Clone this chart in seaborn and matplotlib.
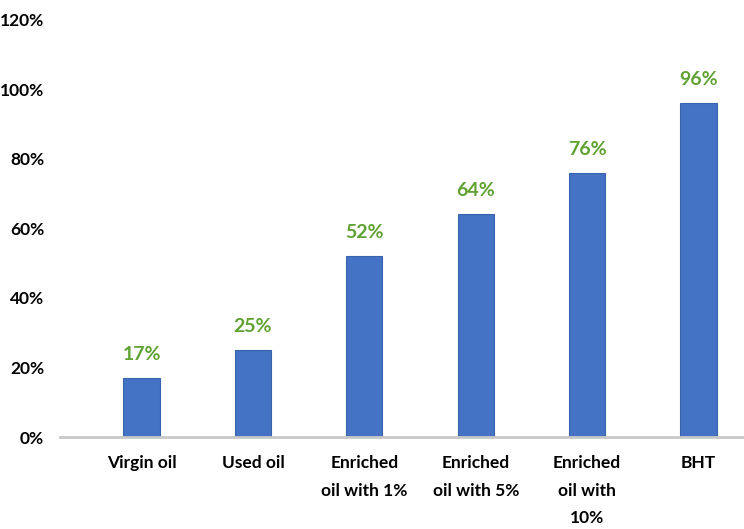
import matplotlib
matplotlib.use("Agg")
import matplotlib.pyplot as plt
import seaborn as sns
import pandas as pd

# Antioxidant activity per sample
categories = ["Virgin oil", "Used oil", "Enriched\noil with 1%", "Enriched\noil with 5%",
              "Enriched\noil with\n10%", "BHT"]
values = [17, 25, 52, 64, 76, 96]
y_ticks = [0, 20, 40, 60, 80, 100, 120]

df = pd.DataFrame({"sample": categories, "activity": values})

sns.set_theme(style="white")
plt.rcParams["font.family"] = ["Lato", "DejaVu Sans"]

W, H = 744, 529
fig = plt.figure(figsize=(W / 100, H / 100), dpi=100)
ax = fig.add_axes([60 / W, 92 / H, (W - 60) / W, 417.6 / H])

sns.barplot(data=df, x="sample", y="activity", color="#4472C4", saturation=1,
            width=0.325, ax=ax, edgecolor="#3a63ad", linewidth=0.8)

for i, v in enumerate(values):
    ax.text(i, v + 4.3, f"{v}%", ha="center", va="bottom", color="#5fa232",
            fontsize=14, fontweight="bold")

ax.set_xlim(-0.732, 5.408)
ax.set_ylim(0, 120)
ax.set_yticks(y_ticks)
ax.set_yticklabels([f"{t}%" for t in y_ticks], fontsize=12.5, fontweight="bold", color="black")
for lbl in ax.get_xticklabels():
    lbl.set_fontsize(12.5)
    lbl.set_fontweight("bold")
    lbl.set_color("black")
    lbl.set_linespacing(1.9)
    lbl.set_va("top")
ax.tick_params(axis="y", length=0, pad=11.5)
ax.tick_params(axis="x", length=0, pad=13)
ax.set_xlabel("")
ax.set_ylabel("")
for s in ["top", "right", "left"]:
    ax.spines[s].set_visible(False)
ax.spines["bottom"].set_color("#c8c8c8")
ax.spines["bottom"].set_linewidth(2)
ax.grid(False)

fig.savefig("out.png", dpi=100)
